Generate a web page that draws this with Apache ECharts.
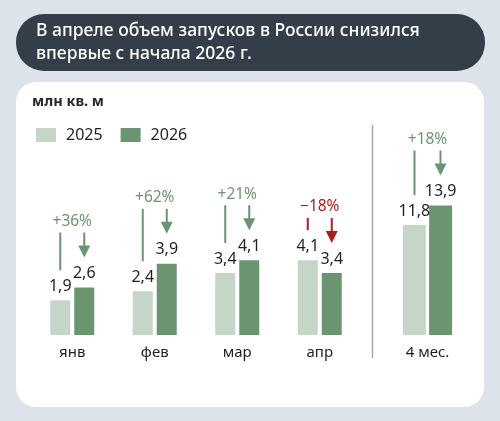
<!DOCTYPE html>
<html>
<head>
<meta charset="utf-8">
<script src="https://cdn.jsdelivr.net/npm/echarts@6/dist/echarts.min.js"></script>
<style>
  html, body { margin: 0; padding: 0; background: #dce3ea; }
  #chart { width: 500px; height: 421px; }
</style>
</head>
<body>
<div id="chart"></div>
<script>
  // данные
  var months = ["янв", "фев", "мар", "апр"];
  var values2025 = [1.9, 2.4, 3.4, 4.1];
  var values2026 = [2.6, 3.9, 4.1, 3.4];
  var monthChange = ["+36%", "+62%", "+21%", "−18%"];

  var totalCategory = ["4 мес."];
  var total2025 = [11.8];
  var total2026 = [13.9];
  var totalChange = ["+18%"];

  var FONT = "Noto Sans";
  var C25 = "#c5d5c8";
  var C26 = "#6b9571";
  var UP = "#6b9571";
  var DOWN = "#a8201c";

  var myChart = echarts.init(document.getElementById("chart"));

  function fmt(p) {
    return String(p.value).replace(".", ",");
  }

  // стрелки и проценты над парами столбцов
  function makeArrows(labels, off) {
    return function (params, api) {
      var i = api.value(0);
      var a = api.value(1);
      var b = api.value(2);
      var p1 = api.coord([i, a]); // центр категории
      var p2 = api.coord([i, b]);
      var x1 = p1[0] - off;
      var x2 = p2[0] + off;
      var color = b >= a ? UP : DOWN;
      var top = p2[1] - 55;
      var tip = p2[1] - 30;
      var bottom = p1[1] - 30;
      return {
        type: "group",
        children: [
          {
            type: "line",
            shape: { x1: x1, y1: top, x2: x1, y2: bottom },
            style: { stroke: color, lineWidth: 2 }
          },
          {
            type: "line",
            shape: { x1: x2, y1: top, x2: x2, y2: tip - 10 },
            style: { stroke: color, lineWidth: 2 }
          },
          {
            type: "polygon",
            shape: { points: [[x2 - 6, tip - 12], [x2 + 6, tip - 12], [x2, tip]] },
            style: { fill: color }
          },
          {
            type: "text",
            style: {
              text: labels[params.dataIndex],
              x: p1[0],
              y: top - 11,
              align: "center",
              verticalAlign: "middle",
              fill: color,
              fontSize: 15.5,
              fontFamily: FONT
            }
          }
        ]
      };
    };
  }

  var monthPairs = months.map(function (m, i) {
    return [i, values2025[i], values2026[i]];
  });
  var totalPairs = totalCategory.map(function (m, i) {
    return [i, total2025[i], total2026[i]];
  });

  var labelStyle = {
    show: true,
    position: "top",
    distance: 6,
    color: "#1f1f1f",
    fontSize: 16,
    fontFamily: FONT,
    formatter: fmt
  };

  var catAxis = {
    type: "category",
    axisLine: { show: false },
    axisTick: { show: false },
    axisLabel: { color: "#1f1f1f", fontSize: 15, fontFamily: FONT, margin: 10 }
  };

  var option = {
    backgroundColor: "#dce3ea",
    animation: false,
    graphic: [
      {
        type: "rect",
        z: -10,
        shape: { x: 16, y: 14, width: 469, height: 57, r: 28 },
        style: { fill: "#333e48" }
      },
      {
        type: "text",
        z: -9,
        style: {
          text: "В апреле объем запусков в России снизился\nвпервые с начала 2026 г.",
          x: 36,
          y: 20,
          fill: "#ffffff",
          fontSize: 17.5,
          fontWeight: 500,
          lineHeight: 23,
          fontFamily: FONT
        }
      },
      {
        type: "rect",
        z: -10,
        shape: { x: 16, y: 82, width: 468, height: 325, r: 20 },
        style: { fill: "#ffffff" }
      },
      {
        type: "text",
        z: -9,
        style: {
          text: "млн кв. м",
          x: 32,
          y: 94,
          fill: "#2a2a2a",
          fontSize: 14.5,
          fontWeight: "bold",
          fontFamily: FONT
        }
      },
      {
        type: "line",
        z: -9,
        shape: { x1: 372.5, y1: 125, x2: 372.5, y2: 358 },
        style: { stroke: "#a9a9a9", lineWidth: 1.5 }
      }
    ],
    legend: {
      left: 31,
      top: 122,
      icon: "rect",
      itemWidth: 20,
      itemHeight: 14,
      itemGap: 18,
      data: ["2025", "2026"],
      textStyle: { color: "#1f1f1f", fontSize: 16, fontFamily: FONT, padding: [0, 0, 0, 5] }
    },
    grid: [
      { left: 31, right: 139, top: 189, bottom: 86 },
      { left: 385, right: 30, top: 186, bottom: 86 }
    ],
    xAxis: [
      Object.assign({ gridIndex: 0, data: months }, catAxis),
      Object.assign({ gridIndex: 1, data: totalCategory }, catAxis)
    ],
    yAxis: [
      { type: "value", gridIndex: 0, min: 0, max: 8, show: false },
      { type: "value", gridIndex: 1, min: 0, max: 16, show: false }
    ],
    series: [
      {
        name: "2025", type: "bar", xAxisIndex: 0, yAxisIndex: 0,
        data: values2025, barWidth: 20, barGap: "20%",
        itemStyle: { color: C25 }, label: labelStyle
      },
      {
        name: "2026", type: "bar", xAxisIndex: 0, yAxisIndex: 0,
        data: values2026, barWidth: 20, barGap: "20%",
        itemStyle: { color: C26 }, label: labelStyle
      },
      {
        name: "2025", type: "bar", xAxisIndex: 1, yAxisIndex: 1,
        data: total2025, barWidth: 23, barGap: "14%",
        itemStyle: { color: C25 }, label: labelStyle
      },
      {
        name: "2026", type: "bar", xAxisIndex: 1, yAxisIndex: 1,
        data: total2026, barWidth: 23, barGap: "14%",
        itemStyle: { color: C26 }, label: labelStyle
      },
      {
        type: "custom", xAxisIndex: 0, yAxisIndex: 0, clip: false, silent: true,
        renderItem: makeArrows(monthChange, 12),
        data: monthPairs, z: 5
      },
      {
        type: "custom", xAxisIndex: 1, yAxisIndex: 1, clip: false, silent: true,
        renderItem: makeArrows(totalChange, 13),
        data: totalPairs, z: 5
      }
    ]
  };

  myChart.setOption(option);
</script>
</body>
</html>
